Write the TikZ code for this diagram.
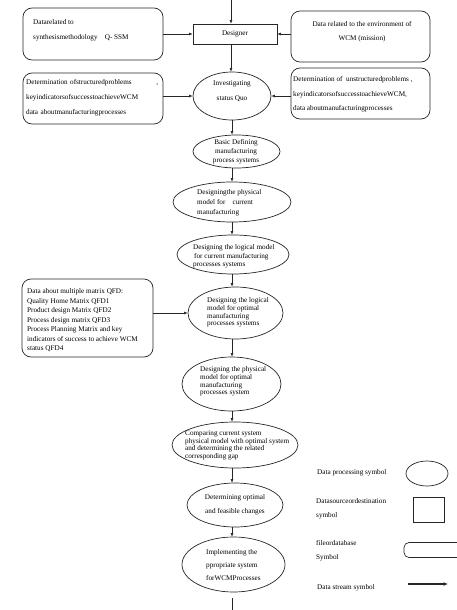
\documentclass[tikz,border=0pt]{standalone}
\usepackage{fontspec}
\setmainfont{Liberation Serif}
\usetikzlibrary{shapes.geometric,arrows.meta}
\begin{document}
\begin{tikzpicture}[x=1pt,y=-1pt,
  lc/.style={draw=black!85, line width=0.6pt},
  box/.style={draw=black!85, line width=0.7pt, rounded corners=9pt, inner sep=0pt},
  srcbox/.style={draw=black!85, line width=0.7pt, inner sep=0pt},
  proc/.style={ellipse, draw=black!85, line width=0.7pt, inner sep=0pt},
  arr/.style={draw=black!85, line width=0.55pt, -{Latex[length=3.6pt,width=3pt]}},
  txt/.style={inner sep=0pt, align=left, font=\fontsize{7.2}{#1}\selectfont},
  txt/.default=9,
  ctxt/.style={inner sep=0pt, align=center, font=\fontsize{7.2}{#1}\selectfont},
  ctxt/.default=9]
\useasboundingbox (0,0) rectangle (457,610);

% data boxes
\node[box, minimum width=140pt, minimum height=52pt] (lb1) at (93,34) {};
\node[txt=15, anchor=west] (lb1T) at (33,30.5) {Datarelated to\\synthesismethodology\quad Q- SSM};
\node[box, minimum width=139pt, minimum height=51pt] (rb1) at (360.5,36.5) {};
\node[ctxt=14] (rb1T) at (362,32) {Data related to the environment of\\WCM (mission)};
\node[box, minimum width=140pt, minimum height=51pt] (lb2) at (93,98.5) {};
\node[txt=15, anchor=west, text width=132pt] (lb2T) at (26,98) {Determination ofstructuredproblems\hfill ,\\keyindicatorsofsuccesstoachieveWCM\\data aboutmanufacturingprocesses};
\node[box, minimum width=139pt, minimum height=51pt] (rb2) at (360.5,93.5) {};
\node[txt=14.5, anchor=west] (rb2T) at (293,94.5) {Determination of\ \ unstructuredproblems ,\\keyindicatorsofsuccesstoachieveWCM,\\data aboutmanufacturingprocesses};
\node[box, minimum width=131pt, minimum height=78pt] (lb3) at (87.5,318) {};
\node[txt=9.5, anchor=west] (lb3T) at (27,320.5) {Data about multiple matrix QFD:\\Quality Home Matrix QFD1\\Product design Matrix QFD2\\Process design matrix QFD3\\Process Planning Matrix and key\\indicators of success to achieve WCM\\status QFD4};

% designer
\node[srcbox, minimum width=84pt, minimum height=20pt, font=\fontsize{7.2}{9}\selectfont] (designer) at (235,34) {Designer};

% processes
\node[proc, minimum width=78pt, minimum height=48pt] (invest) at (232,96) {};
\node[ctxt=15] (investT) at (232,91.5) {Investigating\\status Quo};
\node[proc, minimum width=87pt, minimum height=33pt] (basic) at (236.5,151.5) {};
\node[ctxt=9] (basicT) at (236,152) {Basic Defining\\manufacturing\\process systems};
\node[proc, minimum width=118pt, minimum height=40pt] (physcur) at (232,202) {};
\node[txt=10, anchor=west] (physcurT) at (197,203) {Designingthe physical\\model for\quad current\\manufacturing};
\node[proc, minimum width=112pt, minimum height=39pt] (logcur) at (233,254.5) {};
\node[txt=8.6, anchor=west] (logcurT) at (193,256.5) {Designing the logical model\\\hspace*{1pt}for current manufacturing\\processes systems};
\node[proc, minimum width=95pt, minimum height=52pt] (logopt) at (235.5,313) {};
\node[txt=7.8, anchor=west] (logoptT) at (207,312.5) {Designing the logical\\model for optimal\\manufacturing\\processes systems};
\node[proc, minimum width=99pt, minimum height=54pt] (physopt) at (231.5,384) {};
\node[txt=7.8, anchor=west] (physoptT) at (200,381.5) {Designing the physical\\model for optimal\\manufacturing\\processes system};
\node[proc, minimum width=126pt, minimum height=46pt] (comp) at (235,445) {};
\node[txt=7.7, anchor=west] (compT) at (185,445.5) {Comparing current system\\physical model with optimal system\\and determining the related\\corresponding gap};
\node[proc, minimum width=96pt, minimum height=44pt] (det) at (235,505) {};
\node[ctxt=14] (detT) at (235,505) {Determining optimal\\and feasible changes};
\node[proc, minimum width=103pt, minimum height=55pt] (impl) at (233.5,564.5) {};
\node[txt=13, anchor=west] (implT) at (206,565) {Implementing the\\ppropriate system\\forWCMProcesses};

% axis coordinates
\coordinate (topend) at (231,0);
\coordinate (ax) at (232,0);
\coordinate (botA) at (232,598);
\coordinate (botB) at (232,612);

% vertical flow
\draw[arr] (topend) -- (topend |- designer.north);
\draw[arr] (topend |- designer.south) -- (topend |- invest.north);
\draw[arr] (ax |- invest.south) -- (ax |- basic.north);
\draw[arr] (ax |- basic.south) -- (ax |- physcur.north);
\draw[arr] (ax |- physcur.south) -- (ax |- logcur.north);
\draw[arr] (ax |- logcur.south) -- (ax |- logopt.north);
\draw[arr] (ax |- logopt.south) -- (ax |- physopt.north);
\draw[arr] (ax |- physopt.south) -- (ax |- comp.north);
\draw[arr] (ax |- comp.south) -- (ax |- det.north);
\draw[arr] (ax |- det.south) -- (ax |- impl.north);
\draw[lc] (botA) -- (botB);

% horizontal inputs
\draw[arr] (lb1.east |- designer.west) -- (designer.west);
\draw[arr] (rb1.west |- designer.east) -- (designer.east);
\draw[arr] (lb2.east |- invest.west) -- (invest.west);
\draw[arr] (rb2.west |- invest.east) -- (invest.east);
\draw[arr] (lb3.east |- logopt.west) -- (logopt.west);

% legend
\node[txt, anchor=west] (lg1T) at (317,473) {Data processing symbol};
\node[proc, minimum width=42pt, minimum height=25pt] (lgell) at (427,473.5) {};
\node[txt=14, anchor=west] (lg2T) at (316,509) {Datasourceordestination\\symbol};
\node[srcbox, minimum width=31pt, minimum height=25pt] (lgrect) at (428.5,509.5) {};
\node[txt=14, anchor=west] (lg3T) at (316,551) {fileordatabase\\Symbol};
\node[box, rounded corners=5pt, minimum width=58pt, minimum height=15pt] (lgfile) at (433,550) {};
\node[txt, anchor=west] (lg4T) at (317,588) {Data stream symbol};
\coordinate (lgA) at (408,584);
\coordinate (lgB) at (448,584);
\draw[draw=black!85, line width=1.2pt, -{Latex[length=4.5pt,width=4pt]}] (lgA) -- (lgB);
\end{tikzpicture}
\end{document}
